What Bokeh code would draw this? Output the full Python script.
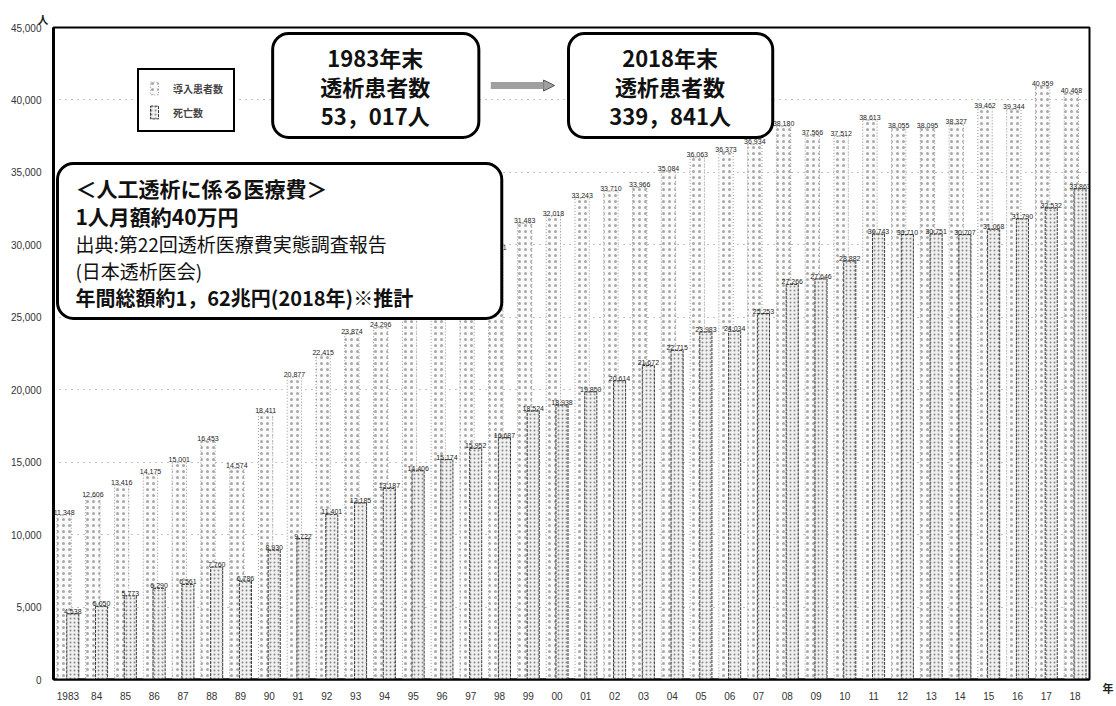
from bokeh.plotting import figure
from bokeh.models import (Range1d, FixedTicker, NumeralTickFormatter, BoxAnnotation, Label,
                          Arrow, NormalHead, Legend, LegendItem, ColumnDataSource, Title,
                          LinearAxis)
from bokeh.transform import dodge
from bokeh.core.properties import value
from bokeh.embed import file_html
from bokeh.resources import INLINE

# ---------------- data ----------------
years = ["1983", "84", "85", "86", "87", "88", "89", "90", "91", "92", "93", "94", "95", "96", "97",
         "98", "99", "00", "01", "02", "03", "04", "05", "06", "07", "08", "09", "10", "11", "12",
         "13", "14", "15", "16", "17", "18"]
new_patients = [11348, 12606, 13416, 14175, 15001, 16453, 14574, 18411, 20877, 22415, 23874, 24296,
                26398, 28409, 29219, 29641, 31483, 32018, 33243, 33710, 33966, 35084, 36063, 36373,
                36934, 38180, 37566, 37512, 38613, 38055, 38095, 38327, 39462, 39344, 40959, 40468]
deaths = [4538, 5050, 5773, 6290, 6561, 7760, 6786, 8930, 9722, 11401, 12185, 13187,
          14406, 15174, 15952, 16687, 18524, 18938, 19850, 20614, 21672, 22715, 23983, 24034,
          25253, 27266, 27646, 28882, 30743, 30710, 30751, 30707, 31068, 31790, 32532, 33863]
y_ticks = [0, 5000, 10000, 15000, 20000, 25000, 30000, 35000, 40000, 45000]
series_names = ["導入患者数", "死亡数"]
y_unit = "人"
x_unit = "年"

JP = "Noto Sans CJK JP"

W, H = 1116, 706
FL, FR, FT, FB = 53, 1093, 27, 679  # frame edges in px
X0, X1 = -0.5, len(years) - 0.5
Y0, Y1 = 0, 45000


def px_x(px):
    return X0 + (px - FL) / (FR - FL) * (X1 - X0)


def px_y(py):
    return Y0 + (FB - py) / (FB - FT) * (Y1 - Y0)


idx = list(range(len(years)))
src = ColumnDataSource(dict(
    x=idx, new=new_patients, dead=deaths,
    new_lbl=[f"{v:,}" for v in new_patients],
    dead_lbl=[f"{v:,}" for v in deaths],
))

p = figure(width=W, height=H, x_range=Range1d(X0, X1), y_range=Range1d(Y0, Y1),
           output_backend="svg", toolbar_location=None,
           min_border_left=FL, min_border_right=W - FR, min_border_top=FT, min_border_bottom=H - FB)
p.background_fill_color = "white"
p.border_fill_color = "white"
p.outline_line_color = "black"
p.outline_line_width = 2

rn = p.vbar(x=dodge('x', -0.13, range=p.x_range), top='new', width=0.5, source=src,
            fill_color="#fafafa", line_color="#9a9a9a", line_dash="1 2", line_width=1,
            hatch_pattern="dot", hatch_scale=6, hatch_color="#a8a8a8", hatch_weight=1)
rd = p.vbar(x=dodge('x', 0.17, range=p.x_range), top='dead', width=0.42, source=src,
            fill_color="#f0f0f0", line_color="#3a3a3a", line_dash="3 1", line_width=1,
            hatch_pattern="dot", hatch_scale=4, hatch_color="#8a8a8a", hatch_weight=1)

p.text(x=dodge('x', -0.13, range=p.x_range), y='new', text='new_lbl', source=src,
       text_font=value("Liberation Sans"), text_font_size="7px", text_align="center",
       text_baseline="bottom", text_color="#222222")
p.text(x=dodge('x', 0.17, range=p.x_range), y='dead', text='dead_lbl', source=src,
       text_font=value("Liberation Sans"), text_font_size="7px", text_align="center",
       text_baseline="bottom", text_color="#222222")

# axes
p.yaxis.ticker = FixedTicker(ticks=y_ticks)
p.yaxis.formatter = NumeralTickFormatter(format="0,0")
p.xaxis.ticker = FixedTicker(ticks=idx)
p.xaxis.major_label_overrides = {i: y for i, y in enumerate(years)}
for ax in (p.xaxis, p.yaxis):
    ax.axis_line_color = "black"
    ax.major_tick_line_color = None
    ax.minor_tick_line_color = None
    ax.major_label_text_font = "Liberation Sans"
    ax.major_label_text_font_size = "10px"
    ax.major_label_text_color = "#333333"
p.yaxis.axis_line_width = 3
p.xaxis.axis_line_width = 2
p.yaxis.major_label_standoff = 6
p.xaxis.major_label_standoff = 6

p.xgrid.grid_line_color = None
p.ygrid.ticker = FixedTicker(ticks=y_ticks)
p.ygrid.grid_line_color = "#888888"
p.ygrid.grid_line_dash = "1 5"

# unit labels outside the frame
p.add_layout(Title(text=y_unit, align="left", offset=-16, standoff=2, text_font=JP,
                   text_font_size="11px", text_font_style="bold", text_color="#222222"), "above")
unit_axis = LinearAxis(ticker=FixedTicker(ticks=[0]), major_label_overrides={0: " \n" + x_unit},
                       axis_line_color=None, major_tick_line_color=None,
                       minor_tick_line_color=None, major_label_standoff=7,
                       major_label_text_font=JP, major_label_text_font_size="11px",
                       major_label_text_font_style="bold", major_label_text_color="#222222",
                       major_label_text_line_height=1.1)
p.add_layout(unit_axis, "right")

# legend
legend = Legend(items=[LegendItem(label=series_names[0], renderers=[rn]),
                       LegendItem(label=series_names[1], renderers=[rd])],
                location=(84, 547), border_line_color="black", border_line_width=2,
                border_line_alpha=1.0,
                label_text_font=JP, label_text_font_size="10px", label_text_font_style="bold",
                glyph_width=10, glyph_height=16, padding=10, spacing=8, margin=0,
                label_standoff=14, background_fill_alpha=1)
p.add_layout(legend)


# annotation boxes
def rbox(l, r, t, b):
    box = BoxAnnotation(left=px_x(l), right=px_x(r), top=px_y(t), bottom=px_y(b),
                        fill_color="white", fill_alpha=1.0, line_color="black", line_alpha=1.0,
                        line_width=3, border_radius=16)
    p.add_layout(box)


def lbl(px, py, txt, size, bold=True, align="center"):
    p.add_layout(Label(x=px_x(px), y=px_y(py), text=txt, text_font=JP, text_font_size=size,
                       text_font_style="bold" if bold else "normal", text_align=align,
                       text_baseline="middle", text_color="#111111"))


rbox(273, 480, 33, 137)
lbl(376, 56, "1983年末", "22px")
lbl(376, 85, "透析患者数", "22px")
lbl(376, 114, "53，017人", "22px")

rbox(570, 775, 33, 137)
lbl(672, 56, "2018年末", "22px")
lbl(672, 85, "透析患者数", "22px")
lbl(672, 114, "339，841人", "22px")

p.add_layout(Arrow(end=NormalHead(size=11, fill_color="#a0a0a0", line_color="#555555", line_width=1),
                   x_start=px_x(492), y_start=px_y(85), x_end=px_x(556), y_end=px_y(85),
                   line_width=7, line_color="#a0a0a0"))

rbox(57, 503, 163, 318)
lbl(75, 187, "＜人工透析に係る医療費＞", "21px", align="left")
lbl(75, 215, "1人月額約40万円", "21px", align="left")
lbl(75, 243, "出典:第22回透析医療費実態調査報告", "19px", bold=False, align="left")
lbl(75, 270, "(日本透析医会)", "19px", bold=False, align="left")
lbl(75, 297, "年間総額約1，62兆円(2018年)※推計", "20px", align="left")

open("out.html", "w").write(file_html(p, INLINE))
